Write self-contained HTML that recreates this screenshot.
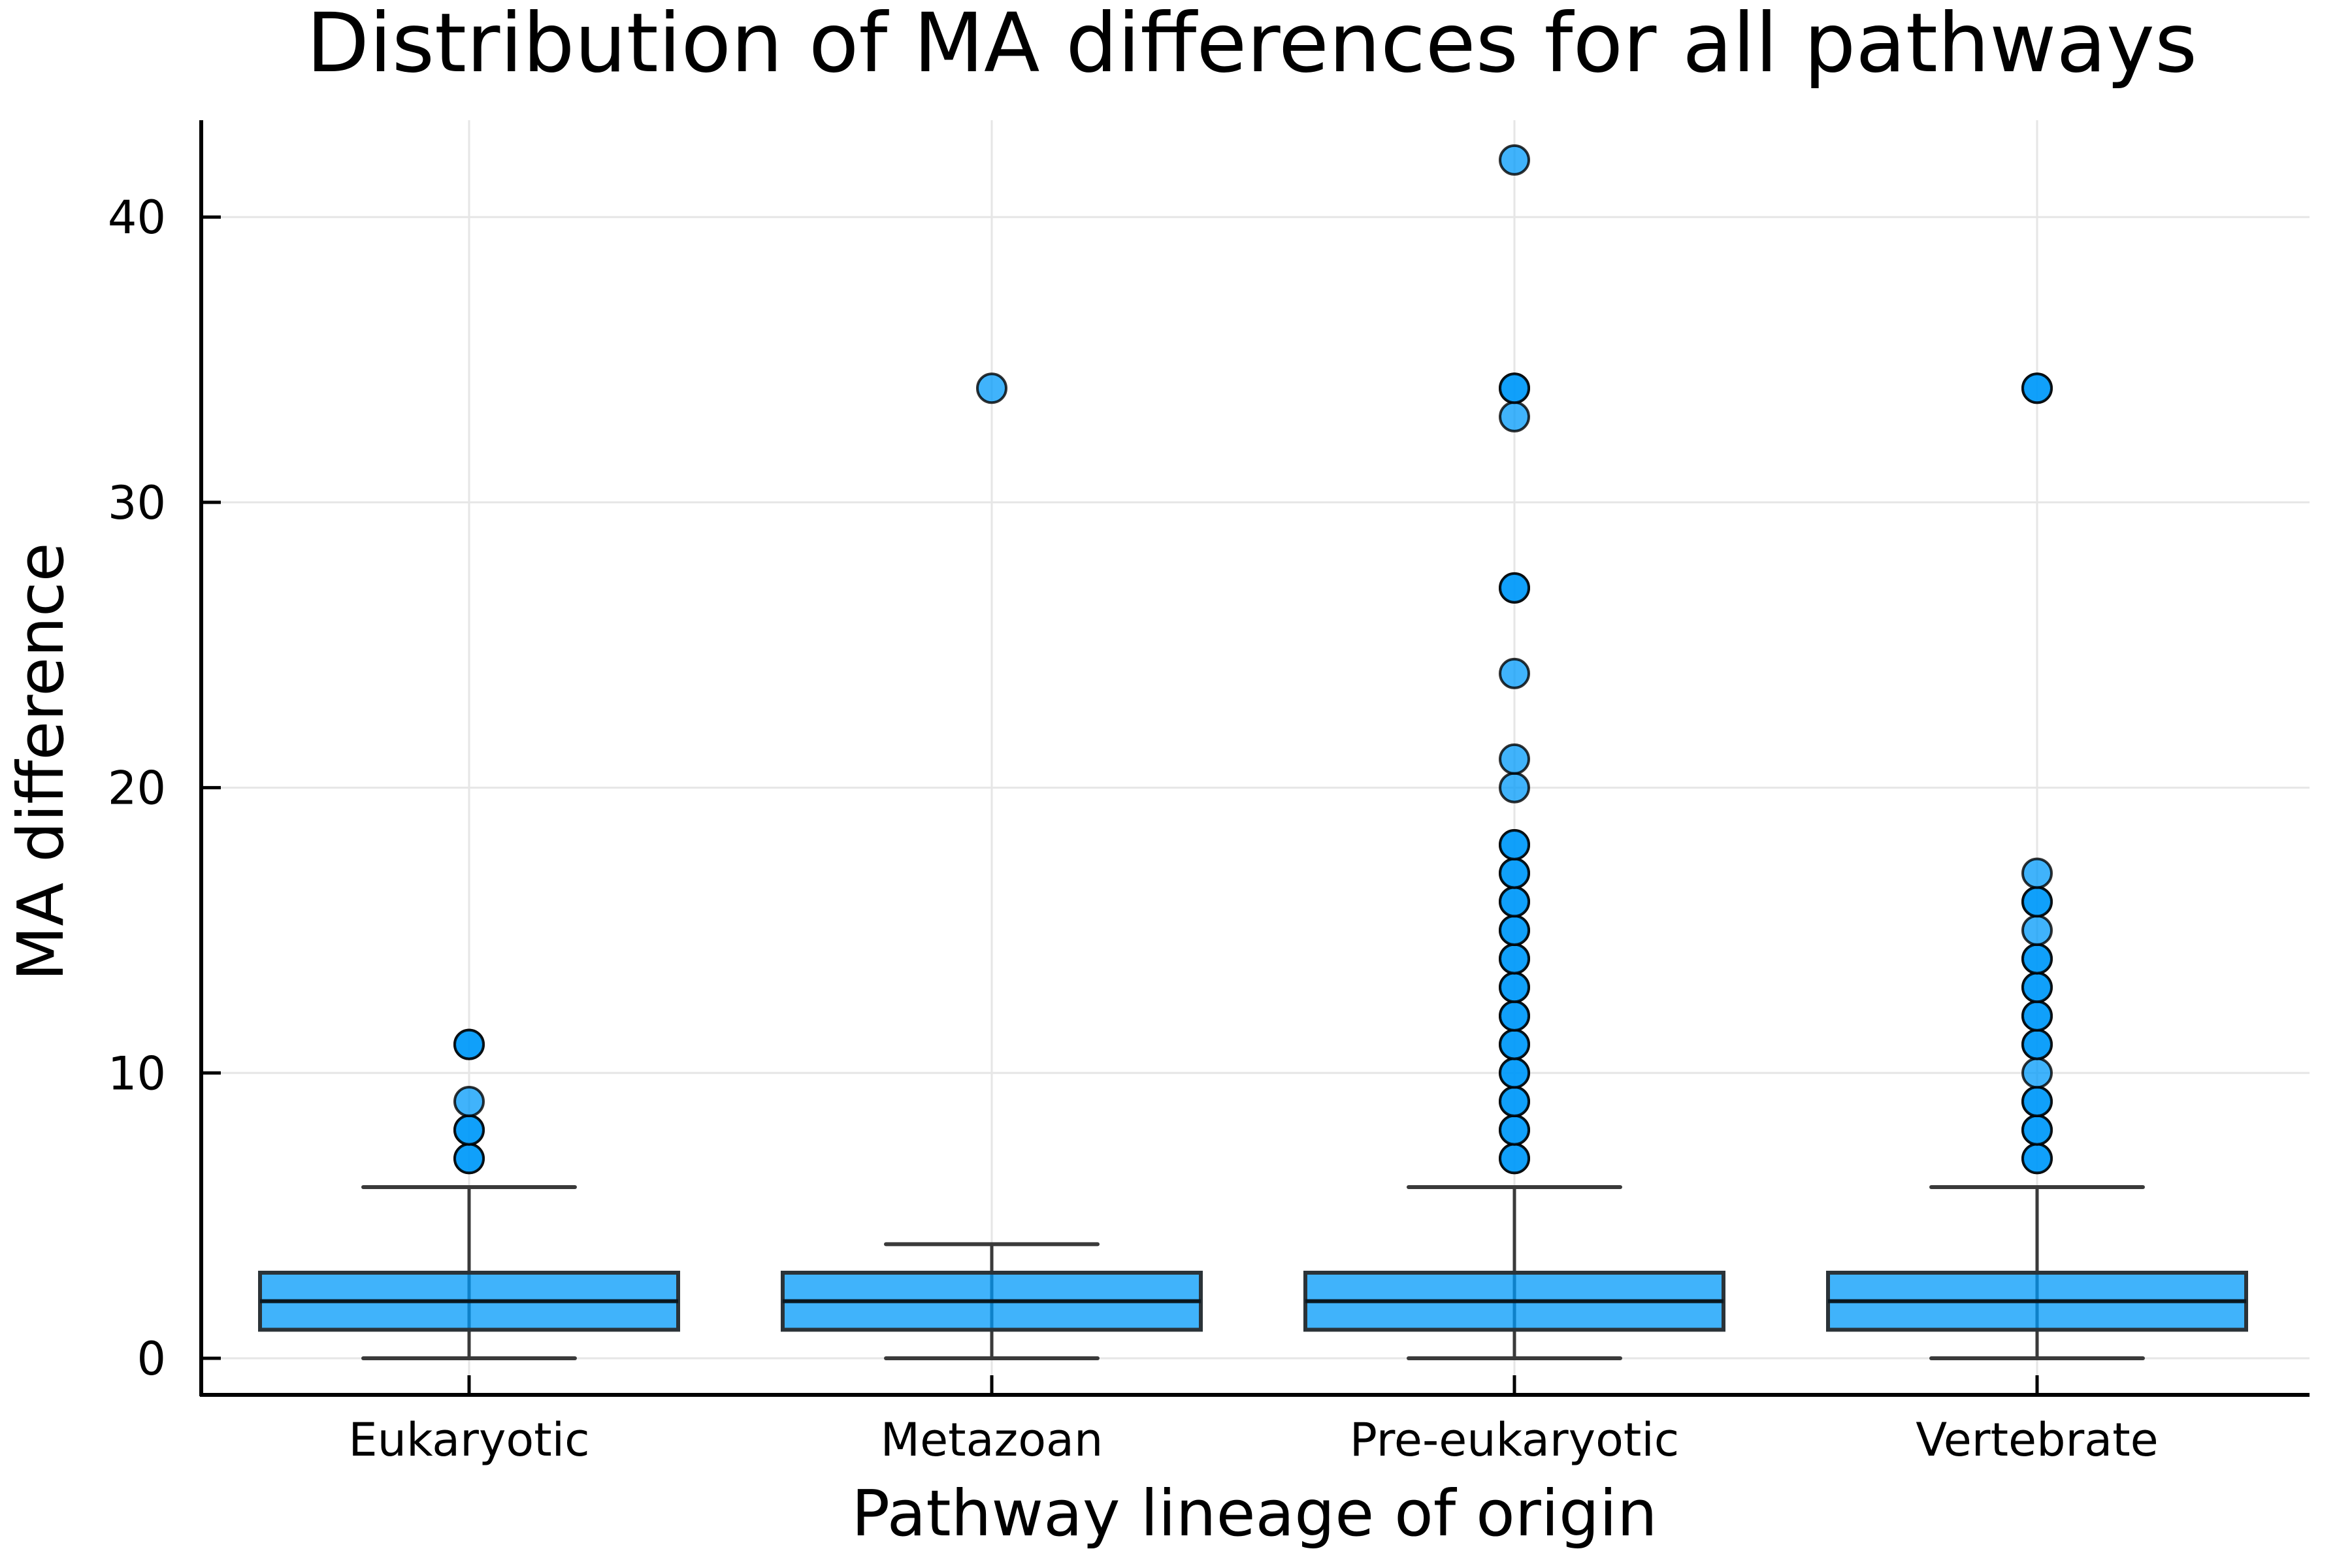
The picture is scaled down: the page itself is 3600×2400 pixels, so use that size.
<!DOCTYPE html>
<html><head><meta charset="utf-8"><style>
html,body{margin:0;padding:0;background:#fff}
svg{display:block;font-family:"DejaVu Sans","Liberation Sans",sans-serif}
</style></head><body>
<svg id="chart" width="3600" height="2400" viewBox="0 0 3600 2400" xmlns="http://www.w3.org/2000/svg">
<rect width="3600" height="2400" fill="#fff"/>
<text x="1916" y="109" font-size="125" text-anchor="middle">Distribution of MA differences for all pathways</text>
<text x="1920" y="2350" font-size="97.5" text-anchor="middle">Pathway lineage of origin</text>
<text x="0" y="0" font-size="97.5" text-anchor="middle" transform="translate(96,1166) rotate(-90)">MA difference</text>
<g id="grid"></g>
<g id="marks"></g>
<g id="axes"></g>
</svg>
<script>
const categories = ["Eukaryotic","Metazoan","Pre-eukaryotic","Vertebrate"];
const q1 = [1,1,1,1];
const median = [2,2,2,2];
const q3 = [3,3,3,3];
const whiskerLow = [0,0,0,0];
const whiskerHigh = [6,4,6,6];
const outliersEuk = [7,7,8,8,9,11,11];
const outliersMeta = [34];
const outliersPre = [7,7,8,8,9,9,10,10,11,11,12,12,13,13,14,14,15,15,16,16,17,17,18,18,20,21,24,27,27,33,34,34,42];
const outliersVert = [7,7,8,8,9,9,10,11,11,12,12,13,13,14,14,15,16,16,17,34,34];
const yTicks = [0,10,20,30,40];

const NS="http://www.w3.org/2000/svg";
const L=308,R=3535,T=184,B=2135;
const y0=2079, pxPerUnit=43.67;
const yS=v=>y0-v*pxPerUnit;
const xS=i=>718+i*800;
const boxHalf=320, capHalf=162;
function mk(tag,attrs,parent){const e=document.createElementNS(NS,tag);for(const k in attrs)e.setAttribute(k,attrs[k]);parent.appendChild(e);return e;}
const grid=document.getElementById('grid'),marks=document.getElementById('marks'),axes=document.getElementById('axes');
yTicks.forEach(v=>{
  const g=mk('line',{x1:L,x2:R,y1:yS(v),y2:yS(v),stroke:'#e6e6e6','stroke-width':3},grid);
  
  
});
categories.forEach((c,i)=>{
  const g=mk('line',{x1:xS(i),x2:xS(i),y1:T,y2:B,stroke:'#e6e6e6','stroke-width':3},grid);
  
  
});
const outs=[outliersEuk,outliersMeta,outliersPre,outliersVert];
categories.forEach((c,i)=>{
  const x=xS(i);
  const wl=mk('line',{x1:x,x2:x,y1:yS(whiskerLow[i]),y2:yS(whiskerHigh[i]),stroke:'#3a3a3a','stroke-width':5},marks);
  
  
  [whiskerLow[i],whiskerHigh[i]].forEach(v=>{
    const cp=mk('line',{x1:x-capHalf,x2:x+capHalf,y1:yS(v),y2:yS(v),stroke:'#3a3a3a','stroke-width':6,'stroke-linecap':'round'},marks);
    
    
  });
  const bx=mk('rect',{x:x-boxHalf,y:yS(q3[i]),width:boxHalf*2,height:yS(q1[i])-yS(q3[i]),fill:'rgba(0,154,249,0.75)',stroke:'#2b3338','stroke-width':6},marks);
  
  
  const md=mk('line',{x1:x-boxHalf,x2:x+boxHalf,y1:yS(median[i]),y2:yS(median[i]),stroke:'#0a1820','stroke-width':6},marks);
  
  
  outs[i].forEach(v=>{
    const o=mk('circle',{cx:x,cy:yS(v),r:22,fill:'rgba(0,154,249,0.75)',stroke:'rgba(0,0,0,0.8)','stroke-width':4},marks);
    
    
  });
  const tk=mk('line',{x1:x,x2:x,y1:B,y2:B-30,stroke:'#000','stroke-width':5},axes);
  
  
  const lb=mk('text',{x:x,y:2228,'font-size':70,'text-anchor':'middle'},axes);
  lb.textContent=c;
  
  
});
yTicks.forEach(v=>{
  const tk=mk('line',{x1:L,x2:L+30,y1:yS(v),y2:yS(v),stroke:'#000','stroke-width':5},axes);
  
  
  const lb=mk('text',{x:254,y:yS(v)+25,'font-size':70,'text-anchor':'end'},axes);
  lb.textContent=String(v);
  
  
});
const ax1=mk('line',{x1:L,x2:L,y1:T,y2:B+2,stroke:'#000','stroke-width':6},axes);


const ax2=mk('line',{x1:L-2,x2:R,y1:B,y2:B,stroke:'#000','stroke-width':6},axes);


</script>
</body></html>
